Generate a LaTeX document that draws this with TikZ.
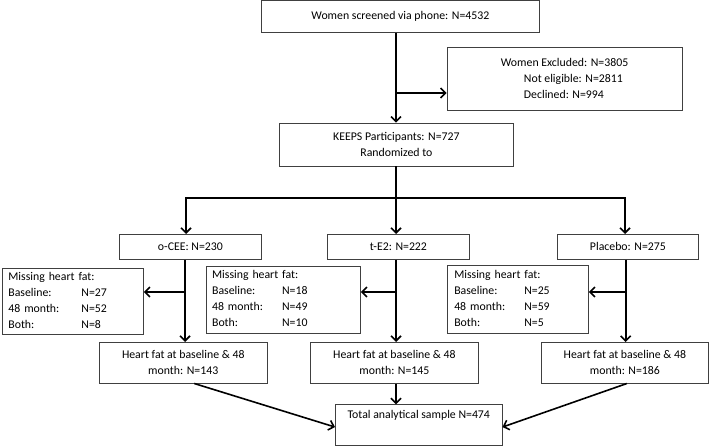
\documentclass[tikz,border=0pt]{standalone}
\usepackage{fontspec}
\setmainfont{Carlito}
\usetikzlibrary{arrows.meta}
\begin{document}
\begin{tikzpicture}[x=1pt,y=-1pt,
  box/.style={draw=black!75, line width=0.8pt, inner sep=0pt, font=\fontsize{11.8}{16}\selectfont},
  arr/.style={line width=1.6pt, -{Straight Barb[length=5pt,width=10pt]}},
  ln/.style={line width=1.6pt, line cap=rect}]
\useasboundingbox (0,0) rectangle (709,446);
% boxes
\node[box, anchor=north west, minimum width=278, minimum height=31.5] (top) at (261,0.5) {Women screened via phone: N=4532};
\node[box, anchor=north west, minimum width=235, minimum height=63] (excl) at (446.7,47)
  {\begin{tabular}{@{}l@{}}Women Excluded: N=3805\\\hspace*{23pt}Not eligible: N=2811\\\hspace*{23pt}Declined: N=994\end{tabular}};
\node[box, anchor=north west, minimum width=234, minimum height=43.3, align=center] (keeps) at (279,122.7)
  {KEEPS Participants: N=727\\Randomized to};
\node[box, anchor=north west, minimum width=142, minimum height=25] (g1) at (119,234) {o-CEE: N=230};
\node[box, anchor=north west, minimum width=142, minimum height=25] (g2) at (327,234) {t-E2: N=222};
\node[box, anchor=north west, minimum width=141, minimum height=25] (g3) at (557,234) {Placebo: N=275};
\node[box, anchor=north west, minimum width=141, minimum height=66, text width=129, align=left] (m1) at (2,268)
  {\begin{tabular}{@{}p{73pt}@{}l@{}}\multicolumn{2}{@{}l@{}}{Missing heart fat:}\\Baseline: & N=27\\48 month: & N=52\\Both: & N=8\end{tabular}};
\node[box, anchor=north west, minimum width=154.3, minimum height=67, text width=142.3, align=left] (m2) at (205.7,265.7)
  {\begin{tabular}{@{}p{70pt}@{}l@{}}\multicolumn{2}{@{}l@{}}{Missing heart fat:}\\Baseline: & N=18\\48 month: & N=49\\Both: & N=10\end{tabular}};
\node[box, anchor=north west, minimum width=141.3, minimum height=67.7, text width=127, align=left] (m3) at (446.7,265)
  {\begin{tabular}{@{}p{70pt}@{}l@{}}\multicolumn{2}{@{}l@{}}{Missing heart fat:}\\Baseline: & N=25\\48 month: & N=59\\Both: & N=5\end{tabular}};
\node[box, anchor=north west, minimum width=167.7, minimum height=40.7, align=center] (h1) at (99,342)
  {Heart fat at baseline \& 48\\month: N=143};
\node[box, anchor=north west, minimum width=168, minimum height=40.7, align=center] (h2) at (310,342)
  {Heart fat at baseline \& 48\\month: N=145};
\node[box, anchor=north west, minimum width=167, minimum height=40.7, align=center] (h3) at (541,342)
  {Heart fat at baseline \& 48\\month: N=186};
\node[box, anchor=north west, minimum width=166.7, minimum height=40.7, align=center] (total) at (335,404.3)
  {Total analytical sample N=474\\\strut};
% connector coordinates
\coordinate (j0) at (396,93);
\coordinate (cA) at (186,198);
\coordinate (cB) at (396,198);
\coordinate (cC) at (625,198);
\coordinate (b1) at (185,292);
\coordinate (b2) at (396,292);
\coordinate (b3) at (625.7,292);
% connectors
\draw[arr] (top.south -| cB) -- (keeps.north -| cB);
\draw[arr] (j0) -- (j0 -| excl.west);
\draw[ln] (keeps.south -| cB) -- (cB);
\draw[ln] (cA) -- (cC);
\draw[arr] (cA) -- (cA |- g1.north);
\draw[arr] (cB) -- (cB |- g2.north);
\draw[arr] (cC) -- (cC |- g3.north);
\draw[arr] (g1.south -| b1) -- (h1.north -| b1);
\draw[arr] (b1) -- (b1 -| m1.east);
\draw[arr] (g2.south -| b2) -- (h2.north -| b2);
\draw[arr] (b2) -- (b2 -| m2.east);
\draw[arr] (g3.south -| b3) -- (h3.north -| b3);
\draw[arr] (b3) -- (b3 -| m3.east);
\draw[arr] ([xshift=11pt]h1.south) -- ([yshift=-2pt]total.west);
\draw[arr] (h2.south -| cB) -- (total.north -| cB);
\draw[arr] ([xshift=2pt]h3.south) -- ([yshift=-2pt]total.east);
\end{tikzpicture}
\end{document}
